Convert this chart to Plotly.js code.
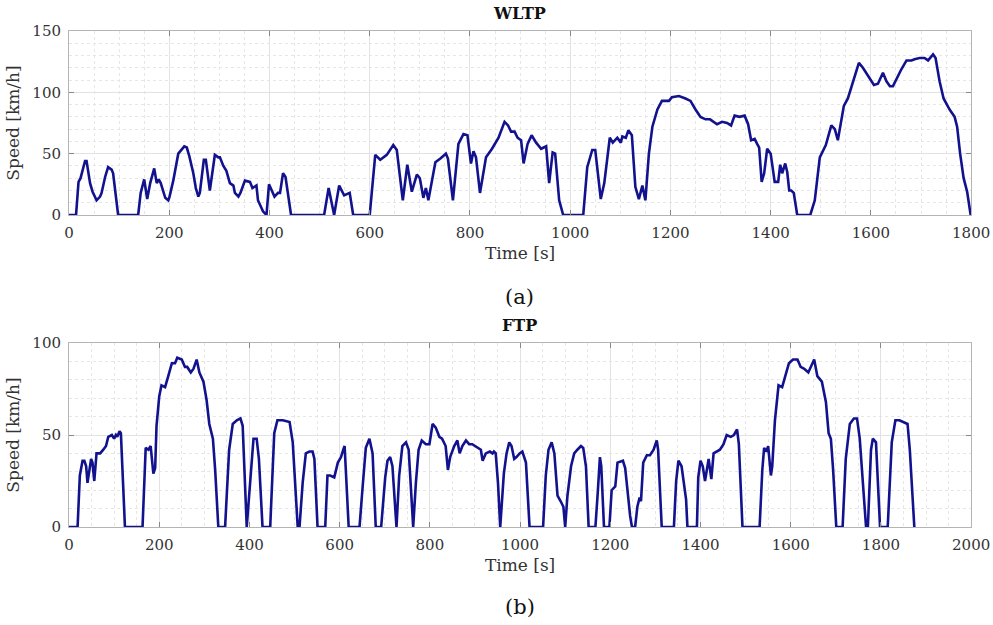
<!DOCTYPE html>
<html>
<head>
<meta charset="utf-8">
<script src="https://cdn.plot.ly/plotly-3.0.1.min.js"></script>
<style>html,body{margin:0;padding:0;background:#fff;}#chart{width:993px;height:625px;}</style>
</head>
<body>
<div id="chart"></div>
<script>
// WLTP cycle (time [s], speed [km/h])
const wltpTime = [0,14,19,23,32,35,42,47,55,62,65,72,78,85,88,95,98,138,143,150,156,162,170,175,179,183,192,198,200,208,218,230,235,240,248,253,258,261,269,273,278,281,291,298,301,308,314,321,328,331,338,342,351,361,366,374,377,387,394,399,410,417,421,427,432,436,443,509,518,529,539,549,560,567,600,611,621,634,647,654,666,675,684,694,700,707,712,717,731,741,752,756,766,777,787,795,802,807,812,820,832,844,857,869,876,882,889,895,902,907,915,923,932,942,952,958,965,970,978,986,1026,1034,1044,1050,1056,1061,1068,1079,1085,1094,1101,1104,1111,1116,1123,1130,1137,1144,1150,1157,1164,1174,1183,1197,1203,1217,1230,1240,1250,1260,1270,1279,1293,1303,1313,1321,1328,1338,1348,1355,1361,1368,1373,1377,1382,1387,1393,1400,1408,1415,1419,1423,1429,1433,1437,1441,1446,1453,1479,1488,1498,1510,1521,1528,1534,1546,1554,1564,1576,1584,1594,1606,1614,1624,1631,1638,1644,1651,1661,1671,1681,1687,1697,1707,1714,1724,1729,1737,1745,1757,1767,1772,1778,1785,1792,1799];
const wltpSpeed = [0,0,27,30,44,44,26,19,12,15,18,31,39,37,34,12,0,0,18,29,13,26,38,26,29,26,14,12,14,28,50,56,55,48,34,22,15,18,45,45,31,20,49,47,47,40,36,26,24,18,15,18,28,27,22,24,12,3,0,25,15,18,18,34,31,18,0,0,22,0,24,16,18,0,0,49,45,49,57,53,12,41,19,33,30,14,22,12,43,46,50,46,12,58,66,65,42,52,47,18,47,54,63,76,73,68,68,63,61,42,58,65,59,54,56,26,51,50,12,0,0,39,53,53,31,13,26,63,59,63,59,64,63,69,65,23,13,24,12,50,72,86,93,93,96,97,95,93,86,80,78,78,74,76,75,73,81,80,81,74,61,62,58,55,27,34,54,50,27,27,41,34,42,35,20,20,18,0,0,12,47,57,73,70,61,89,95,109,124,120,114,106,107,116,109,105,105,111,119,126,126,127,128,128,126,131,128,109,95,86,80,72,50,30,19,0];

// FTP cycle (time [s], speed [km/h])
const ftpTime = [0,19,24,30,34,38,41,45,49,52,56,61,69,76,82,87,95,100,104,107,112,115,119,124,163,170,176,181,187,191,194,200,205,213,220,228,235,240,250,257,262,270,276,283,289,298,305,311,319,324,331,346,355,363,372,380,385,394,409,416,421,429,446,455,462,474,489,496,507,511,518,525,533,540,544,551,568,573,579,588,596,603,608,611,620,644,651,658,666,673,680,692,701,706,712,717,726,732,739,747,753,763,769,775,782,791,799,806,813,821,827,835,840,845,854,861,866,872,880,887,894,906,913,917,924,933,939,942,946,951,956,964,970,976,981,987,992,999,1005,1013,1021,1051,1057,1063,1070,1076,1083,1090,1096,1100,1105,1113,1120,1127,1135,1140,1146,1152,1167,1172,1177,1180,1186,1198,1203,1211,1216,1228,1233,1244,1248,1255,1260,1265,1268,1273,1281,1288,1296,1303,1306,1314,1341,1346,1351,1358,1368,1371,1392,1395,1400,1405,1410,1418,1424,1429,1436,1443,1451,1458,1467,1474,1481,1485,1493,1531,1537,1541,1546,1550,1556,1559,1565,1573,1581,1589,1596,1605,1615,1622,1630,1639,1647,1652,1659,1669,1678,1684,1689,1694,1701,1715,1722,1731,1740,1747,1753,1767,1771,1778,1782,1789,1798,1815,1824,1832,1841,1852,1859,1864,1874];
const ftpSpeed = [0,0,28,36,36,33,24,30,37,35,25,40,40,42,44,49,50,48,50,49,52,51,24,0,0,43,42,44,29,32,55,71,77,76,82,89,89,92,91,87,87,84,86,91,84,79,69,56,48,31,0,0,42,56,58,59,55,0,48,48,37,0,0,51,58,58,57,46,0,0,24,40,41,41,37,0,0,28,28,27,35,38,42,44,0,0,22,43,48,40,0,0,27,36,38,33,0,28,44,46,42,0,24,42,47,45,45,56,54,49,48,44,31,38,44,47,40,44,47,45,45,43,42,36,40,41,40,41,40,24,0,29,40,46,44,37,38,40,41,35,0,0,28,42,46,40,17,14,11,0,17,33,40,42,44,43,33,0,0,18,38,33,0,0,20,22,35,36,32,6,0,0,11,16,14,35,39,39,42,47,42,0,0,25,36,33,15,0,0,27,36,33,25,37,26,40,41,42,45,50,49,50,53,45,0,0,31,43,41,44,28,33,58,77,76,83,89,91,91,87,86,84,88,91,82,79,68,51,48,31,0,0,37,56,59,59,48,0,0,42,48,46,0,0,46,58,58,57,56,42,0];

// Axis ticks
const wltpXTicks = [0,200,400,600,800,1000,1200,1400,1600,1800];
const wltpYTicks = [0,50,100,150];
const ftpXTicks = [0,200,400,600,800,1000,1200,1400,1600,1800,2000];
const ftpYTicks = [0,50,100];

const FONT = 'DejaVu Serif, Liberation Serif, serif';
const LINE = '#12128f';

function axisBase(extra) {
  return Object.assign({
    ticks: 'inside', ticklen: 5, tickwidth: 1, tickcolor: '#888',
    showline: true, mirror: 'ticks', linecolor: '#b4b4b4', linewidth: 1,
    showgrid: true, gridcolor: '#e2e2e2', gridwidth: 1,
    zeroline: false, automargin: false, fixedrange: true,
    tickfont: {family: FONT, size: 15, color: '#333'},
    ticklabelstandoff: 4
  }, extra);
}

const lineStyle = {color: LINE, width: 2.6, shape: 'linear'};

const traces = [
  {x: wltpTime, y: wltpSpeed, xaxis: 'x', yaxis: 'y', type: 'scatter', mode: 'lines',
   line: lineStyle, name: 'WLTP', showlegend: false, hoverinfo: 'skip'},
  {x: ftpTime, y: ftpSpeed, xaxis: 'x2', yaxis: 'y2', type: 'scatter', mode: 'lines',
   line: lineStyle, name: 'FTP', showlegend: false, hoverinfo: 'skip'}
];

const titleFont = {family: FONT, size: 17, color: '#333'};
const minorX = {dtick: 50, showgrid: true, gridcolor: '#e6e6e6', griddash: 'dot', ticks: ''};
const minorY = {dtick: 10, showgrid: true, gridcolor: '#e6e6e6', griddash: 'dot', ticks: ''};

const layout = {
  width: 993, height: 625,
  margin: {l: 0, r: 0, t: 0, b: 0},
  paper_bgcolor: '#fff', plot_bgcolor: '#fff',
  showlegend: false,
  xaxis: axisBase({domain: [0.0695, 0.978], anchor: 'y', range: [0, 1800],
    tickvals: wltpXTicks, ticktext: wltpXTicks.map(String), minor: minorX,
    title: {text: 'Time [s]', font: titleFont, standoff: 6}}),
  yaxis: axisBase({domain: [0.656, 0.9504], anchor: 'x', range: [0, 150],
    tickvals: wltpYTicks, ticktext: wltpYTicks.map(String), minor: minorY,
    title: {text: 'Speed [km/h]', font: titleFont, standoff: 8}}),
  xaxis2: axisBase({domain: [0.0695, 0.978], anchor: 'y2', range: [0, 2000],
    tickvals: ftpXTicks, ticktext: ftpXTicks.map(String), minor: minorX,
    title: {text: 'Time [s]', font: titleFont, standoff: 6}}),
  yaxis2: axisBase({domain: [0.1568, 0.4512], anchor: 'x2', range: [0, 100],
    tickvals: ftpYTicks, ticktext: ftpYTicks.map(String), minor: minorY,
    title: {text: 'Speed [km/h]', font: titleFont, standoff: 8}}),
  annotations: [
    {text: '<b>WLTP</b>', xref: 'paper', yref: 'paper', x: 0.5236, y: (625 - 14) / 625,
     showarrow: false, xanchor: 'center', yanchor: 'middle', font: {family: FONT, size: 16, color: '#111'}},
    {text: '<b>FTP</b>', xref: 'paper', yref: 'paper', x: 0.5236, y: (625 - 325) / 625,
     showarrow: false, xanchor: 'center', yanchor: 'middle', font: {family: FONT, size: 16, color: '#111'}},
    {text: '(a)', xref: 'paper', yref: 'paper', x: 0.5236, y: (625 - 297) / 625,
     showarrow: false, xanchor: 'center', yanchor: 'middle', font: {family: FONT, size: 21, color: '#111'}},
    {text: '(b)', xref: 'paper', yref: 'paper', x: 0.5236, y: (625 - 607) / 625,
     showarrow: false, xanchor: 'center', yanchor: 'middle', font: {family: FONT, size: 21, color: '#111'}}
  ]
};

Plotly.newPlot('chart', traces, layout, {staticPlot: true, displayModeBar: false});
</script>
</body>
</html>
